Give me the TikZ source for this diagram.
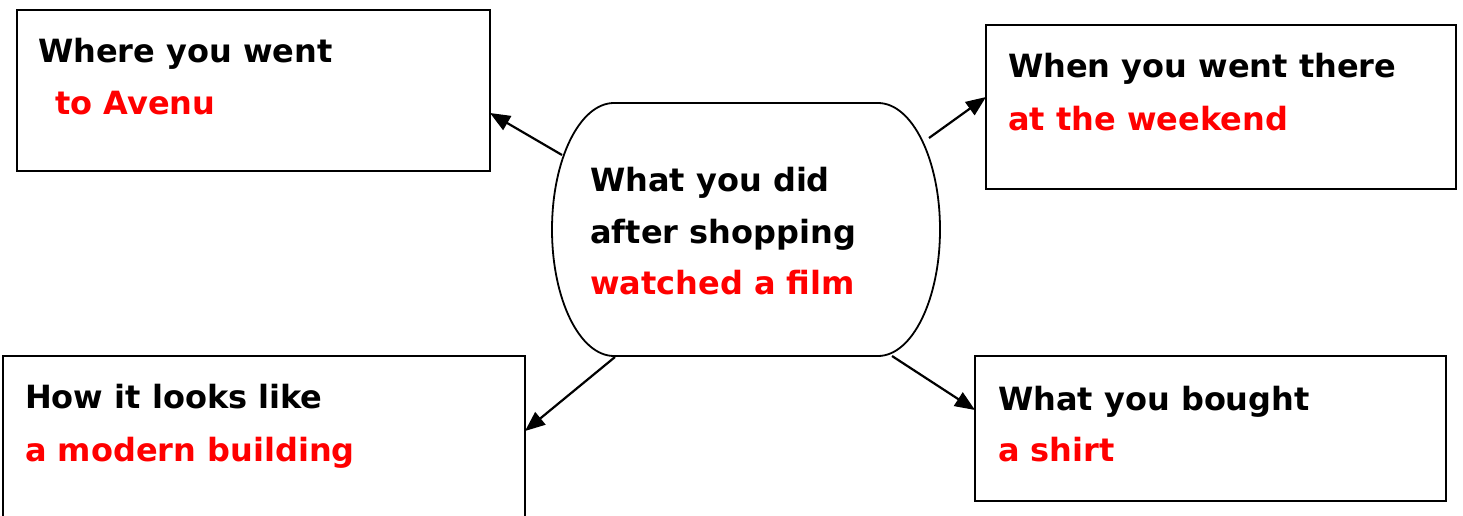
\documentclass[tikz,border=0pt]{standalone}
\usepackage{fontspec}
\setmainfont{DejaVu Sans}
\usetikzlibrary{arrows.meta,calc}
\begin{document}
\begin{tikzpicture}[x=1pt,y=-1pt,
  box/.style={draw=black,line width=2.2pt,inner sep=0pt,outer sep=0pt},
  lbl/.style={anchor=base west,inner sep=0pt,font=\fontsize{32}{38}\selectfont\bfseries},
  ans/.style={lbl,text={rgb,255:red,255;green,0;blue,0}},
  conn/.style={line width=2.2pt,-{Triangle[length=20pt,width=16pt]}}]
\useasboundingbox (0,0) rectangle (1463,516);
\fill[white] (0,0) rectangle (1463,516);
% boxes
\node[box,minimum width=473pt,minimum height=161pt] (tl) at (253.5,90.5) {};
\node[box,minimum width=470pt,minimum height=164pt] (tr) at (1221,107) {};
\node[box,minimum width=522pt,minimum height=180pt] (bl) at (264,446) {};
\node[box,minimum width=471pt,minimum height=145pt] (br) at (1210.5,428.5) {};
% centre shape
\node[inner sep=0pt,minimum width=388pt,minimum height=253pt] (c) at (746,229.5) {};
\draw[line width=1.8pt] (614,103) -- (878,103)
  .. controls (912.2,103) and (940,159.6) .. (940,229.5)
  .. controls (940,299.4) and (912.2,356) .. (878,356)
  -- (614,356)
  .. controls (579.8,356) and (552,299.4) .. (552,229.5)
  .. controls (552,159.6) and (579.8,103) .. (614,103) -- cycle;
% texts
\node[lbl] (t1) at (38,63) {Where you went};
\node[ans] (a1) at (55,114) {to Avenu};
\node[lbl] (t2) at (1008,78) {When you went there};
\node[ans] (a2) at (1008,130) {at the weekend};
\node[lbl] (t3) at (590,191) {What you did};
\node[lbl] (t3b) at (590,243) {after shopping};
\node[ans] (a3) at (590,294) {watched a film};
\node[lbl] (t4) at (25,408) {How it looks like};
\node[ans] (a4) at (25,461) {a modern building};
\node[lbl] (t5) at (998,410) {What you bought};
\node[ans] (a5) at (998,461) {a shirt};
% connectors
\coordinate (s1) at (562,155);
\coordinate (s2) at (929,138);
\coordinate (s3) at (615,357);
\coordinate (s4) at (892,356);
\draw[conn] (s1) -- ([yshift=-22.5pt]tl.east);
\draw[conn] (s2) -- ([yshift=10pt]tr.west);
\draw[conn] (s3) -- ([yshift=15pt]bl.east);
\draw[conn] (s4) -- ([yshift=18.5pt]br.west);
\end{tikzpicture}
\end{document}
